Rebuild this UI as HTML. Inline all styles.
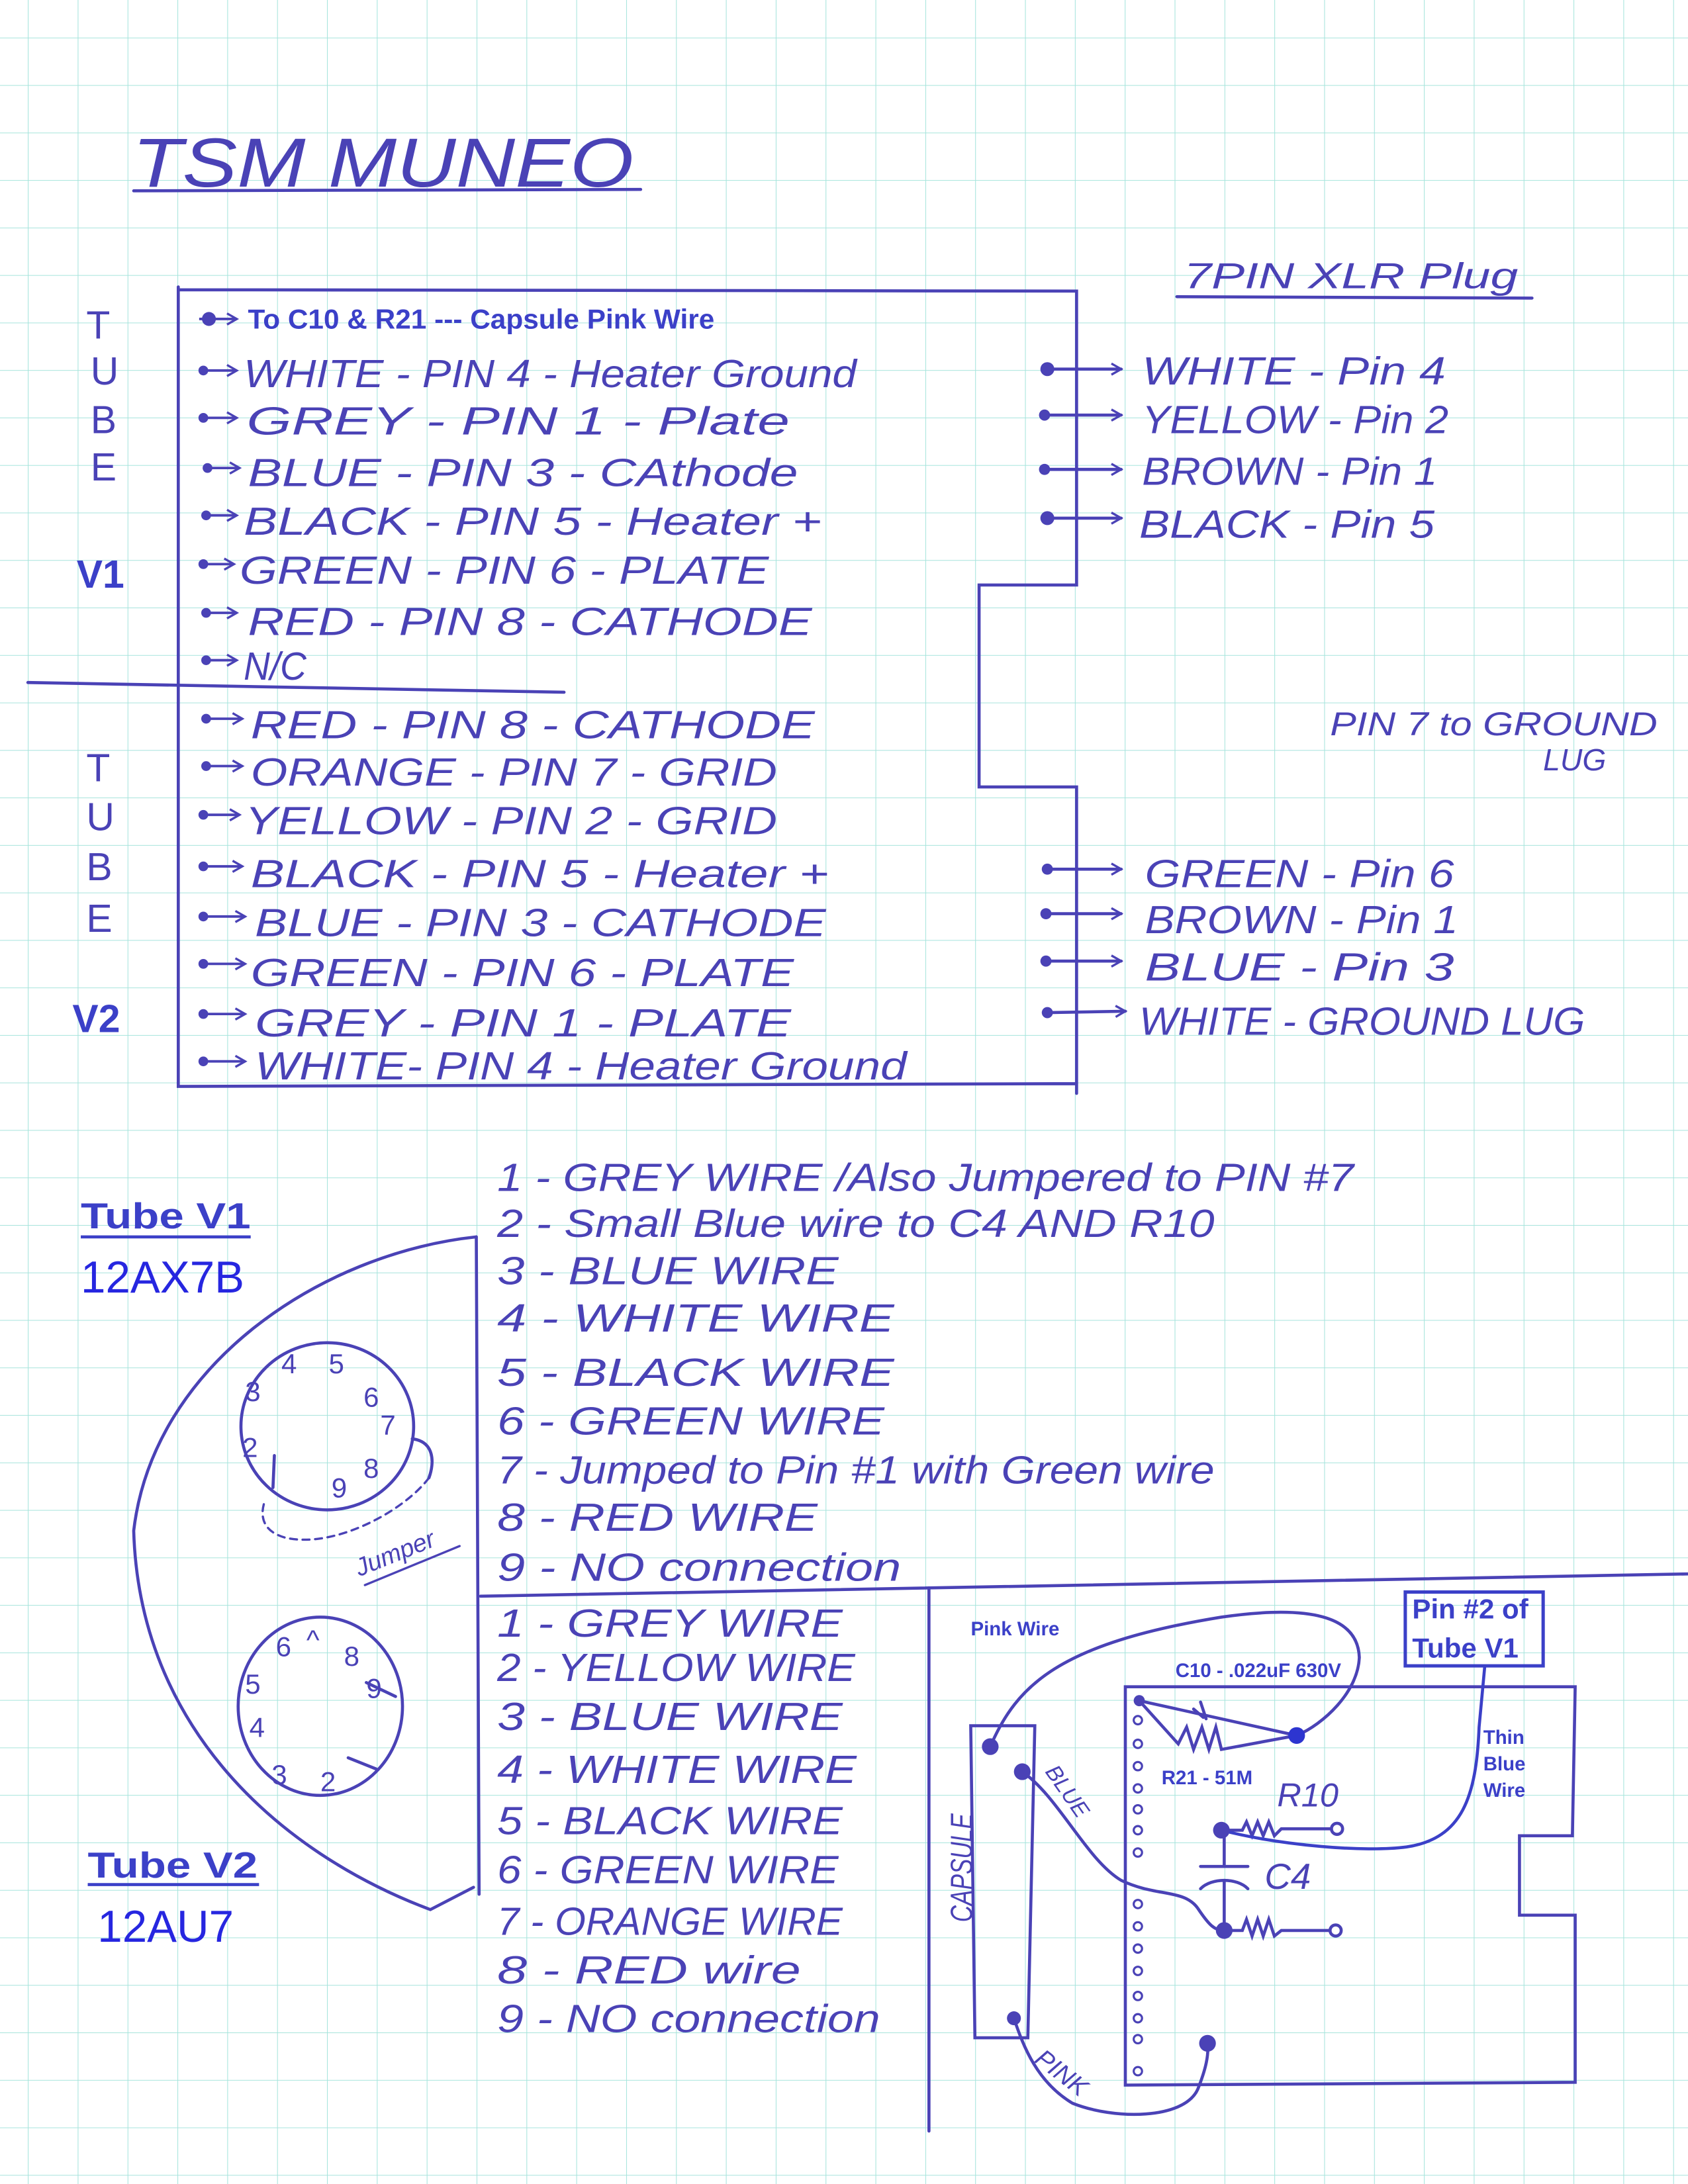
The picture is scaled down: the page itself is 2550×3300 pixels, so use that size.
<!DOCTYPE html>
<html><head><meta charset="utf-8"><style>
html,body{margin:0;padding:0;background:#fff}
svg{display:block}
.h{font-family:"Liberation Sans",sans-serif;fill:#4a42b6;font-style:italic}
.b{font-family:"Liberation Sans",sans-serif;fill:#3b40c8;font-weight:bold}
</style></head><body>
<svg width="2550" height="3300" viewBox="0 0 1212 1568" preserveAspectRatio="none" xmlns="http://www.w3.org/2000/svg">
<defs>
<pattern id="g" x="20" y="27" width="35.8" height="34.1" patternUnits="userSpaceOnUse">
<path d="M0,0 V34.1 M0,0 H35.8" stroke="#a6e4dc" stroke-width="1" fill="none"/>
</pattern>
<marker id="ar" markerWidth="10" markerHeight="10" refX="8" refY="5" orient="auto" markerUnits="userSpaceOnUse"><path d="M1,1 L8,5 L1,9" fill="none" stroke="#4a42b6" stroke-width="1.6"/></marker>
</defs>
<rect width="1212" height="1568" fill="#fff"/>
<rect width="1212" height="1568" fill="url(#g)"/>
<g stroke="#4a42b6" stroke-width="2.2" fill="none" stroke-linecap="round">
<path d="M96,137 L460,136"/>
<path d="M845,213 L1100,214"/>
<path d="M128,206 L128,780 L773,778 M128,208 L773,209 L773,420 L703,420 L703,565 L773,565 L773,785"/>
<path d="M20,490 L405,497"/>
<path d="M752,265 L805,265" marker-end="url(#ar)"/>
<path d="M750,298 L805,298" marker-end="url(#ar)"/>
<path d="M750,337 L805,337" marker-end="url(#ar)"/>
<path d="M752,372 L805,372" marker-end="url(#ar)"/>
<path d="M752,624 L805,624" marker-end="url(#ar)"/>
<path d="M751,656 L805,656" marker-end="url(#ar)"/>
<path d="M751,690 L805,690" marker-end="url(#ar)"/>
<path d="M752,727 L808,726" marker-end="url(#ar)"/>
<path d="M342,888 C230,900 110,980 96,1099 C100,1240 200,1330 309,1371 L340,1355"/>
<path d="M342,888 L344,1360"/>
<ellipse cx="235" cy="1024" rx="62" ry="60"/>
<ellipse cx="230" cy="1225" rx="59" ry="64"/>
<path d="M296,1033 C312,1035 312,1050 308,1061"/>
<path d="M308,1061 C290,1085 240,1112 205,1104 C190,1100 186,1090 190,1078" stroke-dasharray="5,4" stroke-width="1.6"/>
<path d="M262,1138 L330,1110" stroke-width="1.6"/>
<path d="M197,1045 L196,1068 M263,1208 L284,1218 M250,1262 L270,1270"/>
<path d="M345,1146 L1212,1130"/>
<path d="M667,1140 L667,1530"/>
<rect x="1009" y="1143" width="99" height="53" stroke="#3b40c8" stroke-width="2.4"/>
<path d="M808,1211 L1131,1211 L1129,1318 L1091,1318 L1091,1375 L1131,1375 L1131,1495 L808,1497 Z"/>
<path d="M697,1239 L743,1239 L738,1463 L700,1463 Z"/>
<path d="M711,1254 C730,1210 760,1180 877,1161 C940,1152 975,1160 976,1190 C975,1215 950,1238 931,1246"/>
<path d="M818,1221 L931,1246 M818,1221 L846,1252 L852,1240 L857,1256 L863,1240 L868,1256 L873,1240 L877,1256 L931,1246"/>
<path d="M857,1227 L864,1233 M862,1222 L866,1234"/>
<path d="M877,1314 L892,1314 L895,1308 L899,1318 L903,1308 L907,1318 L911,1308 L915,1318 L920,1313 L955,1313"/>
<circle cx="960" cy="1313" r="4"/>
<path d="M877,1314 C920,1325 980,1330 1010,1326 C1050,1320 1060,1290 1062,1240 L1066,1197" stroke="#3b40c8"/>
<path d="M879,1314 L879,1340 M862,1340 L896,1340 M862,1356 C870,1348 888,1348 896,1356 M879,1350 L879,1386"/>
<path d="M879,1386 L892,1386 L895,1378 L899,1390 L903,1378 L907,1390 L911,1378 L915,1390 L920,1386 L955,1386"/>
<circle cx="959" cy="1386" r="4"/>
<path d="M734,1272 C760,1290 780,1335 805,1350 C830,1362 850,1356 860,1370 C868,1382 872,1386 879,1386"/>
<path d="M728,1449 C735,1470 745,1495 770,1510 C800,1522 850,1522 860,1500 C866,1485 868,1475 867,1467"/>
</g>
<g fill="#4a42b6">
<circle cx="150" cy="229" r="5"/>
<circle cx="752" cy="265" r="5"/><circle cx="750" cy="298" r="4"/><circle cx="750" cy="337" r="4"/><circle cx="752" cy="372" r="5"/>
<circle cx="752" cy="624" r="4"/><circle cx="751" cy="656" r="4"/><circle cx="751" cy="690" r="4"/><circle cx="752" cy="727" r="4"/>
<circle cx="931" cy="1246" r="6" fill="#2d35d0"/>
<circle cx="711" cy="1254" r="6"/><circle cx="734" cy="1272" r="6"/><circle cx="728" cy="1449" r="5"/><circle cx="867" cy="1467" r="6"/>
<circle cx="877" cy="1314" r="6"/><circle cx="879" cy="1386" r="6"/><circle cx="818" cy="1221" r="4"/>
<circle cx="146" cy="266" r="3.5"/><circle cx="146" cy="300" r="3.5"/><circle cx="149" cy="336" r="3.5"/><circle cx="148" cy="370" r="3.5"/><circle cx="146" cy="405" r="3.5"/><circle cx="148" cy="440" r="3.5"/><circle cx="148" cy="474" r="3.5"/>
<circle cx="148" cy="516" r="3.5"/><circle cx="148" cy="550" r="3.5"/><circle cx="146" cy="585" r="3.5"/><circle cx="146" cy="622" r="3.5"/><circle cx="146" cy="658" r="3.5"/><circle cx="146" cy="692" r="3.5"/><circle cx="146" cy="728" r="3.5"/><circle cx="146" cy="762" r="3.5"/>
</g>
<g fill="none" stroke="#4a42b6" stroke-width="1.5">
<circle cx="817" cy="1235" r="3"/><circle cx="817" cy="1252" r="3"/><circle cx="817" cy="1268" r="3"/><circle cx="817" cy="1284" r="3"/><circle cx="817" cy="1299" r="3"/><circle cx="817" cy="1314" r="3"/><circle cx="817" cy="1330" r="3"/>
<circle cx="817" cy="1367" r="3"/><circle cx="817" cy="1383" r="3"/><circle cx="817" cy="1399" r="3"/><circle cx="817" cy="1415" r="3"/><circle cx="817" cy="1433" r="3"/><circle cx="817" cy="1449" r="3"/><circle cx="817" cy="1464" r="3"/><circle cx="817" cy="1487" r="3"/>
</g>
<g stroke="#4a42b6" stroke-width="1.8" fill="none">
<path d="M143,229 L170,229" marker-end="url(#ar)"/>
<path d="M146,266 L170,266" marker-end="url(#ar)"/>
<path d="M146,300 L170,300" marker-end="url(#ar)"/>
<path d="M149,336 L172,336" marker-end="url(#ar)"/>
<path d="M148,370 L170,370" marker-end="url(#ar)"/>
<path d="M146,405 L168,405" marker-end="url(#ar)"/>
<path d="M148,440 L170,440" marker-end="url(#ar)"/>
<path d="M148,474 L170,474" marker-end="url(#ar)"/>
<path d="M148,516 L174,516" marker-end="url(#ar)"/>
<path d="M148,550 L174,550" marker-end="url(#ar)"/>
<path d="M146,585 L172,585" marker-end="url(#ar)"/>
<path d="M146,622 L174,622" marker-end="url(#ar)"/>
<path d="M146,658 L176,658" marker-end="url(#ar)"/>
<path d="M146,692 L176,692" marker-end="url(#ar)"/>
<path d="M146,728 L176,728" marker-end="url(#ar)"/>
<path d="M146,762 L176,762" marker-end="url(#ar)"/>
</g>
<g class="h">
<text x="95" y="134" font-size="50" textLength="360" lengthAdjust="spacingAndGlyphs">TSM  MUNEO</text>
<text x="850" y="207" font-size="26" textLength="240" lengthAdjust="spacingAndGlyphs">7PIN  XLR  Plug</text>
<g font-size="28" font-style="normal">
<text x="62" y="243">T</text><text x="65" y="276">U</text><text x="65" y="311">B</text><text x="65" y="345">E</text>
<text x="62" y="561">T</text><text x="62" y="596">U</text><text x="62" y="632">B</text><text x="62" y="669">E</text>
</g>
<g font-size="28">
<text x="175" y="278" textLength="440" lengthAdjust="spacingAndGlyphs">WHITE  -  PIN  4 - Heater Ground</text>
<text x="177" y="312" textLength="390" lengthAdjust="spacingAndGlyphs">GREY    -  PIN  1 - Plate</text>
<text x="178" y="349" textLength="395" lengthAdjust="spacingAndGlyphs">BLUE    -  PIN  3 - CAthode</text>
<text x="175" y="384" textLength="415" lengthAdjust="spacingAndGlyphs">BLACK  -  PIN  5 - Heater  +</text>
<text x="172" y="419" textLength="380" lengthAdjust="spacingAndGlyphs">GREEN - PIN  6 - PLATE</text>
<text x="178" y="456" textLength="405" lengthAdjust="spacingAndGlyphs">RED    - PIN  8 - CATHODE</text>
<text x="175" y="488" textLength="45" lengthAdjust="spacingAndGlyphs">N/C</text>
<text x="180" y="530" textLength="405" lengthAdjust="spacingAndGlyphs">RED     -  PIN  8 - CATHODE</text>
<text x="180" y="564" textLength="378" lengthAdjust="spacingAndGlyphs">ORANGE -  PIN  7 - GRID</text>
<text x="176" y="599" textLength="382" lengthAdjust="spacingAndGlyphs">YELLOW - PIN  2 - GRID</text>
<text x="180" y="637" textLength="415" lengthAdjust="spacingAndGlyphs">BLACK - PIN  5 - Heater  +</text>
<text x="183" y="672" textLength="410" lengthAdjust="spacingAndGlyphs">BLUE   - PIN  3 - CATHODE</text>
<text x="180" y="708" textLength="390" lengthAdjust="spacingAndGlyphs">GREEN - PIN  6 - PLATE</text>
<text x="183" y="744" textLength="385" lengthAdjust="spacingAndGlyphs">GREY  - PIN  1 - PLATE</text>
<text x="183" y="775" textLength="468" lengthAdjust="spacingAndGlyphs">WHITE- PIN  4 - Heater Ground</text>
<text x="820" y="276" textLength="218" lengthAdjust="spacingAndGlyphs">WHITE - Pin 4</text>
<text x="820" y="311" textLength="220" lengthAdjust="spacingAndGlyphs">YELLOW - Pin 2</text>
<text x="820" y="348" textLength="212" lengthAdjust="spacingAndGlyphs">BROWN - Pin 1</text>
<text x="818" y="386" textLength="212" lengthAdjust="spacingAndGlyphs">BLACK - Pin 5</text>
<text x="822" y="637" textLength="222" lengthAdjust="spacingAndGlyphs">GREEN - Pin 6</text>
<text x="822" y="670" textLength="225" lengthAdjust="spacingAndGlyphs">BROWN - Pin 1</text>
<text x="822" y="704" textLength="222" lengthAdjust="spacingAndGlyphs">BLUE - Pin 3</text>
<text x="818" y="743" textLength="320" lengthAdjust="spacingAndGlyphs">WHITE - GROUND LUG</text>
<text x="955" y="528" font-size="24" textLength="235" lengthAdjust="spacingAndGlyphs">PIN 7  to GROUND</text>
<text x="1108" y="553" font-size="22">LUG</text>
</g>
<g font-size="28">
<text x="357" y="855" textLength="615" lengthAdjust="spacingAndGlyphs">1 -  GREY WIRE /Also Jumpered to PIN #7</text>
<text x="357" y="888" textLength="515" lengthAdjust="spacingAndGlyphs">2 -  Small Blue wire to C4 AND R10</text>
<text x="357" y="922" textLength="245" lengthAdjust="spacingAndGlyphs">3 -  BLUE WIRE</text>
<text x="357" y="956" textLength="285" lengthAdjust="spacingAndGlyphs">4 -  WHITE WIRE</text>
<text x="357" y="995" textLength="285" lengthAdjust="spacingAndGlyphs">5 -  BLACK WIRE</text>
<text x="357" y="1030" textLength="278" lengthAdjust="spacingAndGlyphs">6 -  GREEN WIRE</text>
<text x="357" y="1065" textLength="515" lengthAdjust="spacingAndGlyphs">7 -  Jumped to Pin #1 with Green wire</text>
<text x="357" y="1099" textLength="230" lengthAdjust="spacingAndGlyphs">8 -  RED WIRE</text>
<text x="357" y="1135" textLength="290" lengthAdjust="spacingAndGlyphs">9 -  NO connection</text>
<text x="357" y="1175" textLength="248" lengthAdjust="spacingAndGlyphs">1 -  GREY WIRE</text>
<text x="357" y="1207" textLength="257" lengthAdjust="spacingAndGlyphs">2 -  YELLOW WIRE</text>
<text x="357" y="1242" textLength="248" lengthAdjust="spacingAndGlyphs">3 -  BLUE WIRE</text>
<text x="357" y="1280" textLength="258" lengthAdjust="spacingAndGlyphs">4 -  WHITE WIRE</text>
<text x="357" y="1317" textLength="248" lengthAdjust="spacingAndGlyphs">5 -  BLACK WIRE</text>
<text x="357" y="1352" textLength="245" lengthAdjust="spacingAndGlyphs">6 -  GREEN WIRE</text>
<text x="357" y="1389" textLength="248" lengthAdjust="spacingAndGlyphs">7 -  ORANGE WIRE</text>
<text x="357" y="1424" textLength="218" lengthAdjust="spacingAndGlyphs">8 -  RED wire</text>
<text x="357" y="1459" textLength="275" lengthAdjust="spacingAndGlyphs">9 -  NO connection</text>
</g>
<g font-size="20" font-style="normal">
<text x="176" y="1006">3</text><text x="202" y="986">4</text><text x="236" y="986">5</text><text x="261" y="1010">6</text><text x="273" y="1030">7</text><text x="261" y="1061">8</text><text x="238" y="1075">9</text><text x="174" y="1046">2</text>
<text x="198" y="1189">6</text><text x="220" y="1184">^</text><text x="247" y="1196">8</text><text x="263" y="1219">9</text><text x="176" y="1216">5</text><text x="179" y="1247">4</text><text x="195" y="1281">3</text><text x="230" y="1286">2</text>
</g>
<text x="0" y="0" font-size="18" transform="translate(258,1132) rotate(-22)">Jumper</text>
<text x="917" y="1297" font-size="24">R10</text>
<text x="908" y="1356" font-size="26">C4</text>
<text x="0" y="0" font-size="22" transform="translate(698,1380) rotate(-90)" textLength="78" lengthAdjust="spacingAndGlyphs">CAPSULE</text>
<text x="0" y="0" font-size="16" transform="translate(750,1272) rotate(55)">BLUE</text>
<text x="0" y="0" font-size="18" transform="translate(742,1480) rotate(38)">PINK</text>
</g>
<g class="b">
<text x="178" y="236" font-size="20" textLength="335" lengthAdjust="spacingAndGlyphs">To C10 &amp; R21 ---  Capsule Pink Wire</text>
<text x="55" y="422" font-size="28">V1</text>
<text x="52" y="741" font-size="28">V2</text>
<text x="58" y="882" font-size="26" textLength="122" lengthAdjust="spacingAndGlyphs">Tube   V1</text>
<path d="M58,888 L180,888" stroke="#3b40c8" stroke-width="2.2"/>
<text x="63" y="1348" font-size="26" textLength="122" lengthAdjust="spacingAndGlyphs">Tube   V2</text>
<path d="M63,1353 L186,1353" stroke="#3b40c8" stroke-width="2.2"/>
<text x="697" y="1174" font-size="14">Pink Wire</text>
<text x="844" y="1204" font-size="14">C10 - .022uF 630V</text>
<text x="834" y="1281" font-size="14">R21 - 51M</text>
<text x="1065" y="1252" font-size="14">Thin</text>
<text x="1065" y="1271" font-size="14">Blue</text>
<text x="1065" y="1290" font-size="14">Wire</text>
<text x="1014" y="1162" font-size="20">Pin #2 of</text>
<text x="1014" y="1190" font-size="20">Tube V1</text>
</g>
<text x="58" y="928" font-family="Liberation Sans,sans-serif" font-size="32" fill="#2626e0">12AX7B</text>
<text x="70" y="1394" font-family="Liberation Sans,sans-serif" font-size="32" fill="#2626e0">12AU7</text>
</svg>
</body></html>
